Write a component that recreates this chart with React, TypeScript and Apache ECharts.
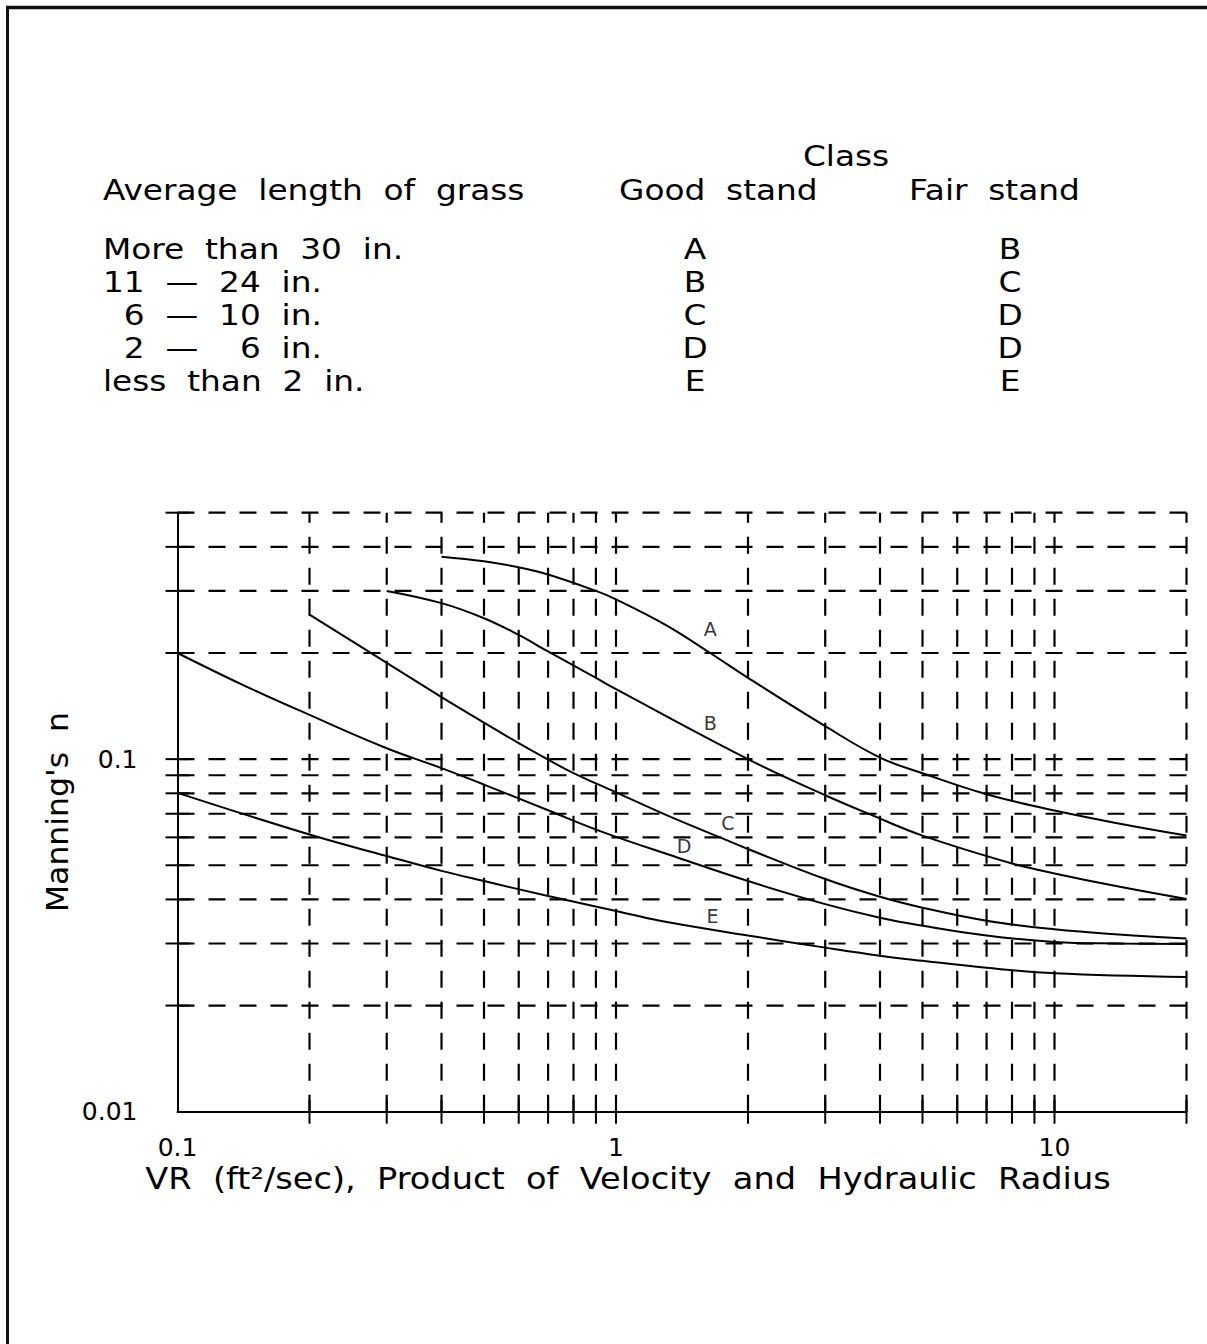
import React, { useEffect, useRef } from "react";
import * as echarts from "echarts";

// ---- axis ranges ----
const X_MIN = 0.1;
const X_MAX = 20;
const Y_MIN = 0.01;
const Y_MAX = 0.5;

// ---- tick labels ----
const xTickLabels = ["0.1", "1", "10"];
const yTickLabels = ["0.01", "0.1"];

// ---- grid line values ----
const xGridValues = [0.2, 0.3, 0.4, 0.5, 0.6, 0.7, 0.8, 0.9, 1, 2, 3, 4, 5, 6, 7, 8, 9, 10, 20];
const yGridValues = [0.02, 0.03, 0.04, 0.05, 0.06, 0.07, 0.08, 0.09, 0.1, 0.2, 0.3, 0.4, 0.5];

// ---- retardance curves (VR, Manning's n) ----
const curveNames = ["A", "B", "C", "D", "E"];

const curveAx = [0.4, 0.5, 0.6, 0.7, 0.9, 1.0, 1.3, 1.63, 2.0, 3.0, 4.0, 5.0, 7.0, 10, 14, 20];
const curveAy = [0.375, 0.364, 0.35, 0.334, 0.3, 0.284, 0.24, 0.201, 0.17, 0.124, 0.101, 0.0912, 0.0795, 0.0715, 0.0657, 0.0607];

const curveBx = [0.3, 0.4, 0.5, 0.6, 0.7, 0.9, 1.0, 2.0, 3.0, 3.8, 5.0, 8.0, 10, 14, 20];
const curveBy = [0.3, 0.277, 0.251, 0.225, 0.202, 0.17, 0.158, 0.1, 0.079, 0.0697, 0.0607, 0.0506, 0.0474, 0.0435, 0.0401];

const curveCx = [0.2, 0.3, 0.4, 0.5, 0.6, 0.7, 0.8, 1.0, 1.3, 1.77, 2, 3, 4, 5, 7, 10, 14, 20];
const curveCy = [0.257, 0.1875, 0.15, 0.127, 0.111, 0.0997, 0.0913, 0.0805, 0.0695, 0.0592, 0.0556, 0.0457, 0.0407, 0.0379, 0.0348, 0.0329, 0.0318, 0.031];

const curveDx = [0.1, 0.14, 0.2, 0.3, 0.4, 0.5, 0.7, 0.93, 1.38, 2, 3, 4, 5, 7, 10, 14, 20];
const curveDy = [0.2, 0.163, 0.1335, 0.1074, 0.0943, 0.0847, 0.0716, 0.0622, 0.0526, 0.0451, 0.0388, 0.0355, 0.0337, 0.0316, 0.0303, 0.03, 0.0299];

const curveEx = [0.1, 0.2, 0.3, 0.4, 0.5, 0.7, 1.0, 1.26, 2, 3, 4, 5, 7, 10, 20];
const curveEy = [0.0802, 0.0611, 0.0531, 0.0482, 0.0451, 0.0409, 0.0371, 0.0348, 0.0316, 0.0292, 0.0277, 0.0268, 0.0256, 0.0247, 0.0241];

// curve label anchor points (data coords)
const labelX = [1.64, 1.64, 1.8, 1.43, 1.66];
const labelY = [0.2345, 0.1264, 0.066, 0.0567, 0.0359];

// ---- classification table ----
const tableHeaderLength = "Average  length  of  grass";
const tableHeaderClass = "Class";
const tableHeaderGood = "Good  stand";
const tableHeaderFair = "Fair  stand";
const grassLengths = [
  "More  than  30  in.",
  "11  —  24  in.",
  "  6  —  10  in.",
  "  2  —    6  in.",
  "less  than  2  in.",
];
const goodStand = ["A", "B", "C", "D", "E"];
const fairStand = ["B", "C", "D", "D", "E"];

const xAxisTitle = "VR  (ft²/sec),  Product  of  Velocity  and  Hydraulic  Radius";
const yAxisTitle = "Manning's  n";

const FONT = "DejaVu Sans";

function fmt(v: number, labels: string[]) {
  const s = String(+Number(v).toPrecision(6));
  return labels.indexOf(s) >= 0 ? s : "";
}

function txt(text: string, x: number, y: number, size: number, sx: number, align: string, rotation = 0) {
  return {
    type: "text",
    x,
    y,
    scaleX: sx,
    rotation,
    silent: true,
    style: {
      text,
      fill: "#000",
      fontSize: size,
      fontFamily: FONT,
      align,
      textAlign: align,
      verticalAlign: "middle",
      textVerticalAlign: "middle",
    },
  };
}

export default function App() {
  const ref = useRef<HTMLDivElement>(null);

  useEffect(() => {
    if (!ref.current) return;
    const chart = echarts.init(ref.current, null, { renderer: "svg" });

    const curves = [
      [curveAx, curveAy],
      [curveBx, curveBy],
      [curveCx, curveCy],
      [curveDx, curveDy],
      [curveEx, curveEy],
    ];

    const lineSeries = curves.map((c, i) => ({
      name: curveNames[i],
      type: "line",
      data: c[0].map((x: number, j: number) => [x, c[1][j]]),
      showSymbol: false,
      symbol: "none",
      smooth: 0.4,
      lineStyle: { color: "#000", width: 2 },
      z: 5,
    }));

    const graphics: any[] = [];
    // page frame
    graphics.push({
      type: "line",
      shape: { x1: 6, y1: 7.5, x2: 1207, y2: 7.5 },
      style: { stroke: "#111", lineWidth: 3.5 },
      silent: true,
    });
    graphics.push({
      type: "line",
      shape: { x1: 7.5, y1: 6, x2: 7.5, y2: 1344 },
      style: { stroke: "#111", lineWidth: 3 },
      silent: true,
    });

    // table
    const TS = 28;
    const SX = 1.17;
    graphics.push(txt(tableHeaderClass, 846, 156, TS, SX, "center"));
    graphics.push(txt(tableHeaderLength, 103, 190, TS, SX, "left"));
    graphics.push(txt(tableHeaderGood, 619, 190, TS, SX, "left"));
    graphics.push(txt(tableHeaderFair, 909, 190, TS, SX, "left"));
    grassLengths.forEach((s, i) => {
      const y = 249 + i * 33;
      graphics.push(txt(s, 103, y, TS, SX, "left"));
      graphics.push(txt(goodStand[i], 695, y, TS, SX, "center"));
      graphics.push(txt(fairStand[i], 1010, y, TS, SX, "center"));
    });

    // axis titles
    graphics.push(txt(xAxisTitle, 628, 1179, 30, 1.12, "center"));
    graphics.push(txt(yAxisTitle, 57, 812, 30, 1.05, "center", Math.PI / 2));

    const option: any = {
      animation: false,
      backgroundColor: "#fff",
      grid: { left: 177.5, top: 512.7, right: 20.5, bottom: 232.3, containLabel: false },
      xAxis: {
        type: "log",
        logBase: 10,
        min: X_MIN,
        max: X_MAX,
        axisLine: { onZero: false, lineStyle: { color: "#000", width: 2 } },
        axisTick: { show: false },
        splitLine: { show: false },
        minorTick: { show: false },
        axisLabel: {
          color: "#000",
          fontSize: 25,
          fontFamily: FONT,
          margin: 23,
          showMaxLabel: false,
          formatter: (v: number) => fmt(v, xTickLabels),
        },
      },
      yAxis: {
        type: "log",
        logBase: 10,
        min: Y_MIN,
        max: Y_MAX,
        axisLine: { onZero: false, lineStyle: { color: "#000", width: 2 } },
        axisTick: { show: false },
        splitLine: { show: false },
        minorTick: { show: false },
        axisLabel: {
          color: "#000",
          fontSize: 25,
          fontFamily: FONT,
          margin: 40,
          showMaxLabel: false,
          formatter: (v: number) => fmt(v, yTickLabels),
        },
      },
      series: [
        {
          type: "custom",
          name: "xgrid",
          clip: false,
          silent: true,
          z: 1,
          data: xGridValues.map((v) => [v, Y_MIN]),
          encode: { x: 0, y: 1 },
          renderItem: (_p: any, api: any) => {
            const v = api.value(0);
            const b = api.coord([v, Y_MIN]);
            const t = api.coord([v, Y_MAX]);
            return {
              type: "group",
              children: [
                {
                  type: "line",
                  shape: { x1: b[0], y1: b[1], x2: t[0], y2: t[1] },
                  style: { stroke: "#000", lineWidth: 2.2, lineDash: [17, 14] },
                },
                {
                  type: "line",
                  shape: { x1: b[0], y1: b[1] - 12, x2: b[0], y2: b[1] + 12 },
                  style: { stroke: "#000", lineWidth: 2 },
                },
              ],
            };
          },
        },
        {
          type: "custom",
          name: "ygrid",
          clip: false,
          silent: true,
          z: 1,
          data: yGridValues.map((v) => [X_MIN, v]),
          encode: { x: 0, y: 1 },
          renderItem: (_p: any, api: any) => {
            const v = api.value(1);
            const l = api.coord([X_MIN, v]);
            const r = api.coord([X_MAX, v]);
            return {
              type: "group",
              children: [
                {
                  type: "line",
                  shape: { x1: l[0], y1: l[1], x2: r[0], y2: r[1] },
                  style: { stroke: "#000", lineWidth: 2.2, lineDash: [17, 14] },
                },
                {
                  type: "line",
                  shape: { x1: l[0] - 12, y1: l[1], x2: l[0] + 12, y2: l[1] },
                  style: { stroke: "#000", lineWidth: 2 },
                },
              ],
            };
          },
        },
        ...lineSeries,
        {
          type: "scatter",
          name: "labels",
          symbolSize: 0.1,
          itemStyle: { color: "#fff" },
          silent: true,
          z: 6,
          data: curveNames.map((n, i) => ({ name: n, value: [labelX[i], labelY[i]] })),
          label: {
            show: true,
            position: "inside",
            formatter: "{b}",
            color: "#000",
            fontSize: 19,
            fontFamily: FONT,
          },
        },
      ],
      graphic: graphics,
    };

    chart.setOption(option);
    return () => chart.dispose();
  }, []);

  return (
    <div
      ref={ref}
      style={{ position: "absolute", left: 0, top: 0, width: 1207, height: 1344, background: "#fff" }}
    />
  );
}
